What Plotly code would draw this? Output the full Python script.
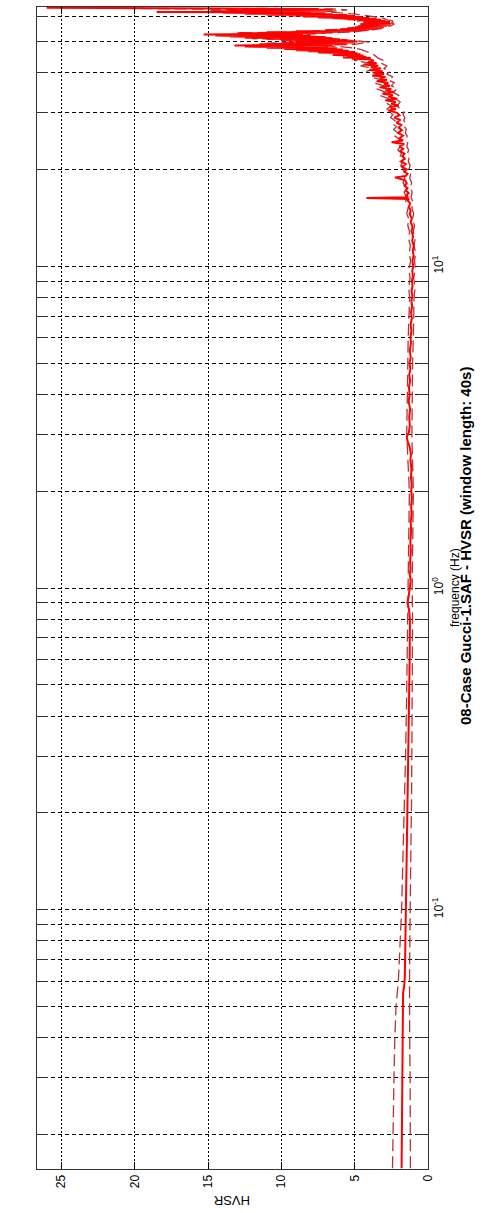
import math
import plotly.graph_objects as go

# ---------------- data ----------------
freq_mean = [
    0.0157, 0.018, 0.021, 0.025, 0.03, 0.035, 0.04, 0.045, 0.05, 0.055, 0.058, 0.062,
    0.07, 0.08, 0.09, 0.1, 0.11, 0.13, 0.15, 0.18, 0.22, 0.27, 0.33, 0.4, 0.5, 0.6,
    0.7, 0.8, 0.86, 0.9, 0.94, 1.0,
    1.05, 1.1, 1.15, 1.2, 1.3, 1.4, 1.5, 1.6, 1.7, 1.8, 1.9, 2.0, 2.1, 2.2, 2.35, 2.5,
    2.6, 2.75, 2.85, 2.95, 3.05, 3.2, 3.4, 3.6, 3.8, 4.0, 4.2, 4.4, 4.6, 4.8, 5.0, 5.2,
    5.5, 5.8, 6.0, 6.3, 6.6, 6.9, 7.2, 7.5, 7.8, 8.1, 8.4, 8.7, 9.0, 9.3, 9.7, 10.0,
    10.4, 10.8, 11.2, 11.6, 12.0, 12.4, 12.9, 13.3, 13.7, 14.1, 14.5, 14.9, 15.3, 15.7,
    16.0, 16.2, 16.3, 16.4, 16.6, 16.9, 17.2, 17.5, 17.8, 18.1, 18.5, 18.9, 19.1, 19.4,
    19.7, 20.0, 20.4, 20.8, 21.2, 21.6, 22.0, 22.4, 22.8, 23.2, 23.6, 24.0, 24.3, 24.6,
    25.0, 25.5, 26.0, 26.5, 27.0, 27.5, 28.0, 28.5, 29.0, 29.5, 30.0, 30.5, 30.8,
    31.2, 31.6, 32.0, 32.4, 32.8, 33.2, 33.6, 34.0, 34.4, 34.8, 35.2, 35.6, 36.0, 36.4,
    36.8, 37.2, 37.6, 38.0, 38.4, 38.8, 39.2, 39.6, 40.0, 40.4, 40.8, 41.2, 41.6, 42.0,
    42.4, 42.8, 43.2, 43.6,
    44.0, 44.2, 44.4, 44.6, 44.8, 45.0, 45.2, 45.4, 45.6, 45.8, 46.0, 46.2, 46.4, 46.6,
    46.8, 47.0, 47.2, 47.4, 47.6, 47.8, 48.0, 48.2, 48.4, 48.6, 48.8, 49.0, 49.2, 49.4,
    49.6, 49.8, 50.0, 50.2, 50.4, 50.6, 50.8, 51.0, 51.2, 51.4, 51.6, 51.8, 52.0, 52.2,
    52.4, 52.6, 52.8, 53.0, 53.2, 53.4, 53.6, 53.8, 54.0, 54.2, 54.4, 54.6, 54.8, 55.0,
    55.2, 55.4, 55.6, 55.8, 56.0, 56.2, 56.4, 56.6, 56.8, 57.0, 57.2, 57.4, 57.6, 57.8,
    58.0, 58.2, 58.4, 58.6, 58.8, 59.0, 59.2, 59.4, 59.6, 59.8, 60.0, 60.2, 60.4, 60.6,
    60.8, 61.0, 61.2, 61.4, 61.6, 61.7, 61.9, 62.1, 62.3, 62.5, 62.7, 62.9, 63.1, 63.3,
    63.5, 63.7,
]
hv_mean = [
    1.80, 1.79, 1.79, 1.78, 1.77, 1.76, 1.75, 1.74, 1.73, 1.70, 1.62, 1.58,
    1.56, 1.54, 1.52, 1.50, 1.49, 1.46, 1.43, 1.39, 1.35, 1.32, 1.30, 1.28, 1.26, 1.25,
    1.24, 1.23, 1.30, 1.40, 1.32, 1.22,
    1.18, 1.24, 1.19, 1.22, 1.17, 1.20, 1.15, 1.18, 1.12, 1.15, 1.10, 1.14, 1.11, 1.16, 1.13, 1.20,
    1.16, 1.25, 1.38, 1.45, 1.30, 1.24, 1.28, 1.22, 1.32, 1.25, 1.30, 1.22, 1.28, 1.20, 1.26, 1.18,
    1.24, 1.15, 1.20, 1.13, 1.18, 1.10, 1.16, 1.08, 1.13, 1.06, 1.12, 1.05, 1.10, 1.03, 1.07, 1.01,
    1.06, 0.98, 1.04, 0.97, 1.08, 1.02, 1.12, 1.05, 1.18, 1.10, 1.25, 1.18, 1.30, 1.22,
    1.38, 1.30, 4.20, 1.35, 1.48, 1.32, 1.52, 1.40, 1.60, 1.45, 1.55, 2.25, 1.50, 1.40,
    1.62, 1.45, 1.78, 1.52, 1.85, 1.58, 1.75, 1.60, 1.90, 1.70, 1.95, 1.62, 2.48, 1.70,
    1.95, 1.70, 2.05, 1.78, 2.00, 1.82, 2.15, 1.88, 2.30, 1.95, 2.10, 2.70, 2.20,
    2.60, 2.00, 2.50, 2.20, 2.90, 2.10, 2.70, 2.40, 3.10, 2.30, 2.90, 2.50, 3.30, 2.60,
    3.00, 2.70, 3.50, 2.80, 3.30, 2.90, 3.80, 3.00, 3.60, 3.10, 4.00, 3.20, 3.90, 3.40,
    4.40, 3.50, 4.10, 3.70,
    4.00, 5.20, 3.90, 5.80, 4.20, 5.50, 4.40, 6.50, 4.60, 6.00, 4.80, 7.50, 5.00, 8.20,
    5.40, 9.00, 5.80, 9.80, 6.20, 11.0, 6.80, 12.5, 7.50, 13.2, 6.50, 11.5, 5.50, 10.0,
    5.00, 9.00, 4.80, 8.50, 5.50, 10.0, 6.00, 11.0, 6.50, 12.5, 7.00, 13.5, 8.00, 14.5,
    8.50, 15.3, 9.00, 13.0, 7.00, 11.0, 6.00, 9.00, 5.00, 7.00, 4.00, 6.00, 3.50, 5.50,
    3.20, 5.00, 3.00, 4.80, 2.80, 4.50, 2.60, 4.60, 2.50, 4.20, 2.70, 4.40, 2.60, 4.00,
    2.90, 4.80, 3.20, 5.50, 3.50, 6.50, 4.00, 7.50, 4.50, 8.50, 5.00, 9.50, 5.50, 11.0,
    6.50, 12.5, 7.00, 14.0, 8.00, 18.5, 9.00, 14.0, 7.00, 12.5, 6.50, 13.5, 7.50, 14.0,
    20.0, 26.0,
]

freq_std = [
    0.0157, 0.02, 0.03, 0.04, 0.05, 0.06, 0.07, 0.08, 0.1, 0.15, 0.22, 0.3, 0.45, 0.6,
    0.8, 1.0, 1.5, 2.0, 3.0, 4.0, 5.0, 6.0, 7.0,
    8.0, 8.6, 9.2, 9.8, 10.4, 11.0, 11.6, 12.2, 12.8, 13.4, 14.0, 14.6, 15.2, 15.8,
    16.4, 17.0, 17.6, 18.2, 18.8, 19.4, 20.0, 20.6, 21.2, 21.8, 22.4, 23.0, 23.6, 24.2,
    24.8, 25.4, 26.0, 26.6, 27.2, 27.8, 28.4, 29.0, 29.6, 30.2,
    30.8, 31.6, 32.4, 33.2, 34.0, 34.8, 35.6, 36.4, 37.2, 38.0, 38.8, 39.6, 40.4, 41.2,
    42.0, 42.8, 43.6, 44.4, 45.2, 45.9, 46.5, 47.1, 47.7, 48.2, 48.6, 49.0, 49.4, 49.8,
    50.2, 50.6, 51.0, 51.6, 52.2, 52.7, 53.1, 53.6, 54.2, 54.8, 55.4, 56.0, 56.6, 57.2,
    57.8, 58.4, 59.0, 59.6, 60.2, 60.8, 61.4, 61.9, 62.3, 62.7, 63.1, 63.4,
]
hv_upper = [
    2.42, 2.40, 2.32, 2.26, 2.18, 2.02, 1.95, 1.88, 1.80, 1.70, 1.58, 1.53, 1.46, 1.42,
    1.38, 1.35, 1.28, 1.27, 1.45, 1.42, 1.40, 1.35, 1.30,
    1.25, 1.32, 1.22, 1.30, 1.18, 1.28, 1.20, 1.33, 1.25, 1.38, 1.30, 1.45, 1.35, 1.52,
    1.48, 1.62, 1.52, 1.70, 1.58, 1.75, 1.65, 1.85, 1.72, 1.95, 1.80, 2.05, 1.88, 2.15,
    1.95, 2.25, 2.05, 2.35, 2.15, 2.45, 2.25, 2.55, 2.40, 2.70,
    2.80, 2.50, 3.00, 2.70, 3.30, 2.90, 3.50, 3.00, 3.70, 3.20, 3.90, 3.40, 4.20, 3.60,
    4.60, 3.90, 5.00, 4.30, 5.80, 5.00, 7.50, 6.00, 9.00, 8.50, 12.5, 8.00, 11.0, 7.00,
    10.0, 8.00, 12.0, 10.0, 14.5, 11.5, 13.0, 8.50, 7.00, 5.50, 5.00, 4.00, 4.60, 3.60,
    4.80, 4.50, 6.00, 6.50, 9.00, 8.00, 12.0, 11.0, 15.0, 11.0, 16.0, 22.0,
]
hv_lower = [
    1.20, 1.19, 1.22, 1.25, 1.27, 1.26, 1.25, 1.24, 1.23, 1.17, 1.12, 1.10, 1.05, 1.04,
    1.05, 1.08, 1.02, 1.00, 1.10, 1.08, 1.05, 1.00, 0.98,
    0.95, 0.88, 0.98, 0.86, 0.92, 0.84, 0.95, 0.88, 1.00, 0.92, 1.05, 0.98, 1.10, 1.02,
    1.15, 1.08, 1.20, 1.12, 1.25, 1.18, 1.30, 1.22, 1.35, 1.28, 1.40, 1.32, 1.45, 1.38,
    1.50, 1.42, 1.55, 1.48, 1.60, 1.52, 1.65, 1.58, 1.70, 1.65,
    1.90, 2.10, 1.90, 2.20, 2.00, 2.40, 2.10, 2.50, 2.30, 2.70, 2.40, 2.80, 2.60, 3.00,
    2.80, 3.20, 3.00, 3.40, 3.60, 3.80, 4.20, 4.50, 5.00, 6.00, 7.50, 5.00, 4.50, 4.00,
    4.80, 5.50, 6.50, 7.00, 8.50, 8.00, 7.00, 5.00, 4.20, 3.20, 3.00, 2.50, 2.30, 2.50,
    2.20, 2.80, 3.00, 3.50, 4.20, 5.00, 6.00, 7.00, 6.00, 5.50, 6.50, 12.0,
]

hv_ticks = [0, 5, 10, 15, 20, 25]
hv_ticklabels = ["0", "5", "10", "15", "20", "25"]
freq_ticks = [0.02, 0.03, 0.04, 0.05, 0.06, 0.07, 0.08, 0.09,
              0.1, 0.2, 0.3, 0.4, 0.5, 0.6, 0.7, 0.8, 0.9,
              1, 2, 3, 4, 5, 6, 7, 8, 9,
              10, 20, 30, 40, 50, 60]
freq_decade_labels = {0.1: "10<sup>-1</sup>", 1: "10<sup>0</sup>", 10: "10<sup>1</sup>"}
freq_ticklabels = [freq_decade_labels.get(v, "") for v in freq_ticks]

title_text = "08-Case Gucci-1.SAF - HVSR (window length: 40s)"
freq_label = "frequency (Hz)"
hv_label = "HVSR"

# ---------------- figure ----------------
W, H = 485, 1213
L, R, T, B = 37, 57, 7, 44
FONT = "Liberation Sans, Arial, sans-serif"

fig = go.Figure()
dash_line = dict(color="#b83434", width=1.3, dash="12px,5px")
fig.add_trace(go.Scatter(x=hv_upper, y=freq_std, mode="lines", line=dash_line,
                         showlegend=False, hoverinfo="skip"))
fig.add_trace(go.Scatter(x=hv_lower, y=freq_std, mode="lines", line=dash_line,
                         showlegend=False, hoverinfo="skip"))
fig.add_trace(go.Scatter(x=hv_mean, y=freq_mean, mode="lines",
                         line=dict(color="#ff0000", width=2.0),
                         showlegend=False))

fig.update_layout(
    width=W, height=H,
    margin=dict(l=L, r=R, t=T, b=B, pad=0),
    paper_bgcolor="white", plot_bgcolor="white",
    font=dict(family=FONT, size=12, color="black"),
    xaxis=dict(
        range=[26.66, 0], tickvals=hv_ticks, ticktext=hv_ticklabels,
        tickangle=-90, ticks="inside", ticklen=7, tickcolor="black", tickwidth=1,
        showline=True, linecolor="#333333", linewidth=1, mirror="ticks",
        showgrid=True, gridcolor="black", gridwidth=1, griddash="2px,2px",
        zeroline=False, tickfont=dict(size=12, family=FONT),
    ),
    yaxis=dict(
        type="log", range=[math.log10(1 / 64), math.log10(64)], side="right",
        tickvals=freq_ticks, ticktext=freq_ticklabels, tickangle=-90,
        ticks="inside", ticklen=11, tickcolor="#333333", tickwidth=1,
        showline=True, linecolor="#333333", linewidth=1, mirror="ticks",
        showgrid=True, gridcolor="black", gridwidth=1, griddash="4px,3px",
        zeroline=False, tickfont=dict(size=12, family=FONT),
    ),
    annotations=[
        dict(text="<b>" + title_text + "</b>", xref="paper", yref="paper",
             x=(465 - L) / (W - L - R), y=(1169 - 546) / (1169 - T),
             xanchor="center", yanchor="middle", textangle=-90, showarrow=False,
             font=dict(size=15, family=FONT, color="black")),
        dict(text=freq_label, xref="paper", yref="paper",
             x=(455 - L) / (W - L - R), y=0.5,
             xanchor="center", yanchor="middle", textangle=-90, showarrow=False,
             font=dict(size=12, family=FONT, color="black")),
        dict(text=hv_label, xref="paper", yref="paper",
             x=0.5, y=(1169 - 1201) / (1169 - T),
             xanchor="center", yanchor="middle", textangle=180, showarrow=False,
             font=dict(size=13, family=FONT, color="black")),
    ],
)

fig.write_html("out.html")
